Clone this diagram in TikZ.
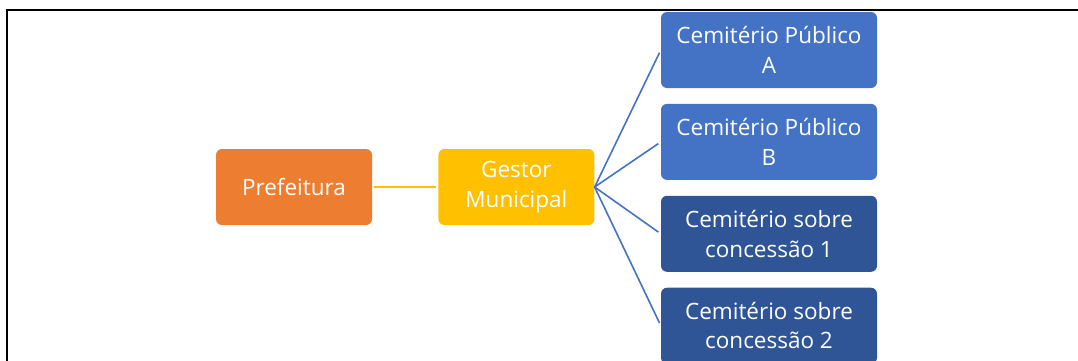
\documentclass[tikz,border=0pt]{standalone}
\usepackage{fontspec}
\setmainfont{Open Sans}
\usepackage{tikz}
\usetikzlibrary{positioning}
\definecolor{orgbox}{HTML}{ED7D31}
\definecolor{gestbox}{HTML}{FFC000}
\definecolor{pubbox}{HTML}{4472C4}
\definecolor{concbox}{HTML}{2F5597}

\begin{document}
\begin{tikzpicture}[
  x=1pt,y=-1pt,
  node distance=15.5pt,
  unit/.style={rounded corners=6pt,minimum width=156pt,minimum height=76pt,
               align=center,text=white,font=\fontsize{22.5}{29.5}\selectfont,inner sep=2pt},
  cem/.style={unit,minimum width=216pt},
  link/.style={line width=1.6pt}
]
\useasboundingbox (0,0) rectangle (1078,360);
\clip (0,0) rectangle (1078,360);
% moldura
\draw[line width=2pt] (7,361) -- (7,10) -- (1079,10);
\node[unit,fill=orgbox] (pref) at (294,187) {Prefeitura};
\node[unit,fill=gestbox,right=66pt of pref] (gestor) {Gestor\\Municipal};
\node[cem,fill=pubbox] (cemA) at (769,50) {Cemitério Público\\A};
\node[cem,fill=pubbox,below=of cemA] (cemB) {Cemitério Público\\B};
\node[cem,fill=concbox,below=of cemB] (conc1) {Cemitério sobre\\concessão 1};
\node[cem,fill=concbox,below=of conc1] (conc2) {Cemitério sobre\\concessão 2};
\draw[link,gestbox,shorten <=2pt,shorten >=2pt] (pref) -- (gestor);
\foreach \c in {cemA,cemB,conc1,conc2}
  \draw[link,pubbox,shorten >=3pt] (gestor.east) -- (\c.west);
\end{tikzpicture}
\end{document}
